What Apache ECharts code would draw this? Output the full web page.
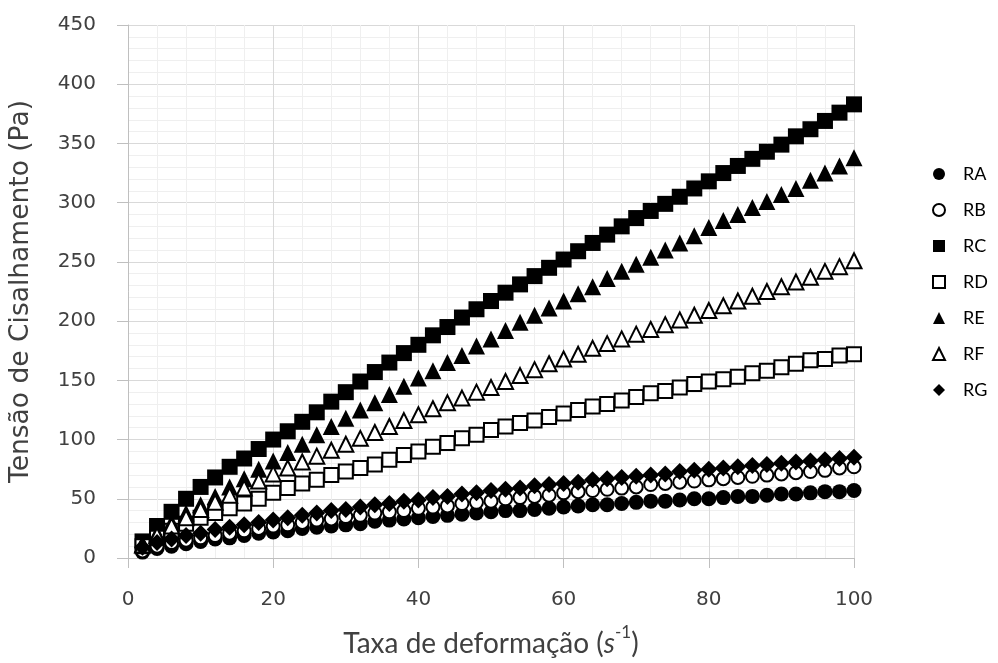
<!DOCTYPE html>
<html><head><meta charset="utf-8">
<script src="https://cdn.jsdelivr.net/npm/echarts@6/dist/echarts.min.js"></script>
<style>html,body{margin:0;padding:0;background:#fff}#c{width:998px;height:663px}</style>
</head><body><div id="c"></div>
<script>
const shearRate = [2,4,6,8,10,12,14,16,18,20,22,24,26,28,30,32,34,36,38,40,42,44,46,48,50,52,54,56,58,60,62,64,66,68,70,72,74,76,78,80,82,84,86,88,90,92,94,96,98,100];
const RA = [5,8,10,12,14,16,17,19,21,22,23,25,26,27,28,29,31,32,33,34,35,36,37,38,39,40,40,41,42,43,44,45,45,46,47,48,48,49,50,50,51,52,52,53,54,54,55,56,56,57];
const RB = [6,10,13,15,17,19,21,23,25,27,28,30,32,33,35,36,38,39,40,42,43,44,46,47,48,50,51,52,53,55,56,57,58,59,60,62,63,64,65,66,67,68,69,70,71,72,73,74,76,77];
const RC = [14,27,39,50,60,68,77,84,92,100,107,115,123,132,140,149,157,165,173,180,188,195,203,210,217,224,231,238,245,252,259,266,273,280,287,293,299,305,312,318,325,331,337,343,349,356,362,369,376,383];
const RD = [10,17,23,29,34,38,42,46,50,55,59,63,66,70,73,76,79,83,87,90,94,97,101,104,108,111,114,116,119,122,125,128,130,133,136,139,141,144,147,149,151,153,156,158,161,164,167,168,171,172];
const RE = [12,21,30,38,45,52,60,67,75,82,89,96,104,111,118,125,131,138,145,152,158,165,171,179,185,192,199,205,211,217,223,229,236,242,248,254,260,266,272,279,285,290,296,301,307,312,319,325,331,338];
const RF = [11,19,27,34,41,47,53,59,65,71,76,81,86,91,96,101,106,111,116,121,126,131,135,140,144,149,154,159,164,168,172,177,181,185,189,193,197,201,205,209,213,217,221,225,229,233,237,242,246,251];
const RG = [9,13,16,19,21,24,26,28,30,32,34,36,38,40,41,43,45,46,48,49,51,52,54,55,57,58,59,61,62,63,64,66,67,68,69,70,71,73,74,75,76,77,78,79,80,81,82,83,84,85];
const seriesNames = ['RA','RB','RC','RD','RE','RF','RG'];
const seriesValues = [RA,RB,RC,RD,RE,RF,RG];
const seriesSymbols = ['circle','circle','rect','rect','triangle','triangle','diamond'];
const seriesFilled = [true,false,true,false,true,false,true];
const symbolSizes = {circle:15, rect:16, triangle:17, diamond:17};

const chart = echarts.init(document.getElementById('c'));
const axisGrey = '#bfbfbf';
const txt = '#404040';
const series = seriesNames.map((name, k) => ({
  name: name,
  type: 'scatter',
  symbol: seriesSymbols[k],
  symbolSize: seriesFilled[k] ? symbolSizes[seriesSymbols[k]] : symbolSizes[seriesSymbols[k]] - 2,
  data: shearRate.map((x, i) => [x, seriesValues[k][i]]),
  itemStyle: seriesFilled[k]
    ? {color: '#000', borderColor: '#000', borderWidth: 0, opacity: 1}
    : {color: '#fff', borderColor: '#000', borderWidth: 2, opacity: 1},
  emphasis: {disabled: true},
  animation: false
}));

chart.setOption({
  animation: false,
  backgroundColor: '#fff',
  grid: {left: 128, right: 144, top: 25, bottom: 103},
  legend: {
    orient: 'vertical',
    left: 927,
    top: 159,
    itemWidth: 12,
    itemHeight: 12,
    itemGap: 16,
    data: seriesNames,
    textStyle: {fontFamily: 'Lato', fontSize: 18, color: '#000', lineHeight: 20, padding: [0, 0, 0, 13]}
  },
  xAxis: {
    type: 'value', min: 0, max: 100, interval: 20,
    name: '{t|Taxa de deformação (}{s|s}{p|-1}{t|)}',
    nameLocation: 'middle', nameGap: 66,
    nameTextStyle: {
      rich: {
        t: {fontFamily: 'Lato', fontSize: 28, color: txt, lineHeight: 34, verticalAlign: 'bottom'},
        s: {fontFamily: 'Lato', fontSize: 28, fontStyle: 'italic', color: txt, lineHeight: 34, verticalAlign: 'bottom'},
        p: {fontFamily: 'Lato', fontSize: 17, color: txt, lineHeight: 34, verticalAlign: 'top'}
      }
    },
    axisLine: {show: true, lineStyle: {color: axisGrey, width: 1}},
    axisTick: {show: true, length: 10, lineStyle: {color: axisGrey}},
    axisLabel: {fontFamily: 'DejaVu Sans', fontSize: 20, color: txt, margin: 32},
    splitLine: {show: true, lineStyle: {color: '#d9d9d9'}},
    minorTick: {show: false, splitNumber: 5},
    minorSplitLine: {show: true, lineStyle: {color: '#efefef'}}
  },
  yAxis: {
    type: 'value', min: 0, max: 450, interval: 50,
    name: 'Tensão de Cisalhamento (Pa)',
    nameLocation: 'middle', nameGap: 93, nameRotate: 90,
    nameTextStyle: {fontFamily: 'DejaVu Sans', fontSize: 26.5, color: txt},
    axisLine: {show: true, lineStyle: {color: axisGrey, width: 1}},
    axisTick: {show: true, length: 11, lineStyle: {color: axisGrey}},
    axisLabel: {fontFamily: 'DejaVu Sans', fontSize: 20, color: txt, margin: 32},
    splitLine: {show: true, lineStyle: {color: '#d9d9d9'}},
    minorTick: {show: false, splitNumber: 5},
    minorSplitLine: {show: true, lineStyle: {color: '#efefef'}}
  },
  series: series
});
</script>
</body></html>
